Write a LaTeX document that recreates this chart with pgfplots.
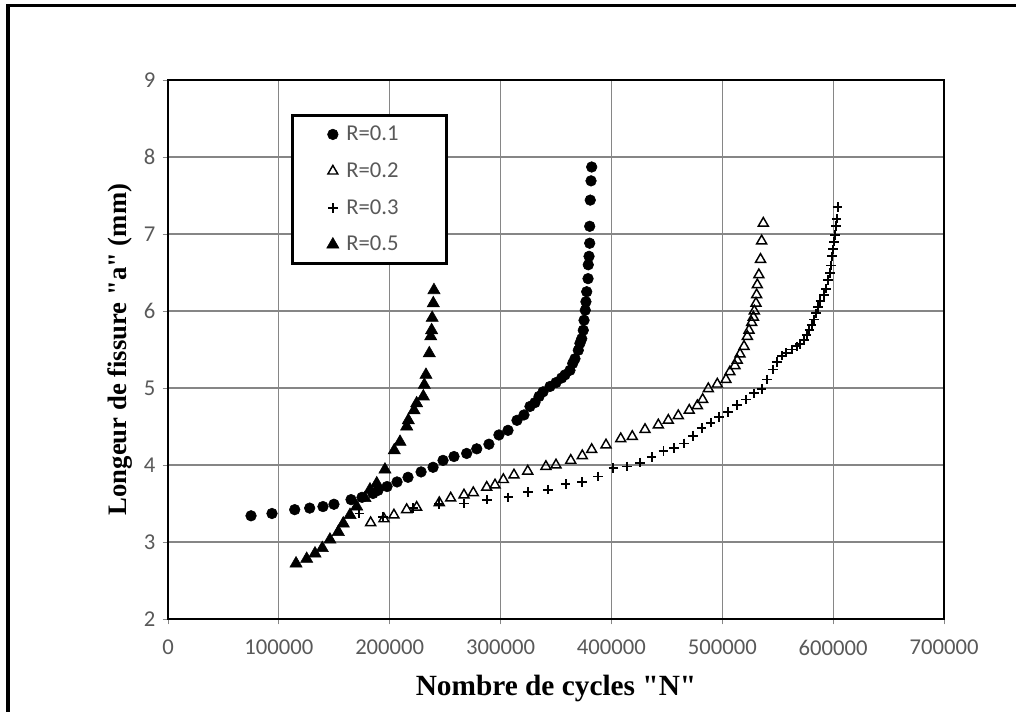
\documentclass[border=0pt]{standalone}
\usepackage{fontspec}
\setmainfont{Liberation Serif}
\newfontfamily\labelfont{Liberation Serif}
\newfontfamily\carlito{Carlito}
\usepackage{pgfplots}
\pgfplotsset{compat=1.18}
\definecolor{ticktext}{RGB}{89,89,89}
\definecolor{gridgray}{RGB}{134,134,134}

\begin{document}
\begin{tikzpicture}
% page = 1016 x 712 px at 0.75pt/px, axis box lower-left at (0,0)
\path[use as bounding box] (-126pt,-69.75pt) rectangle (636pt,464.25pt);
\draw[line width=2.6pt] (-120pt,-90pt) -- (-120pt,460.2pt) -- (660pt,460.2pt);
\begin{axis}[
    at={(0,0)}, anchor=south west,
    scale only axis, width=582pt, height=404.25pt,
    xmin=0, xmax=700000, ymin=2, ymax=9,
    scaled x ticks=false,
    xtick={0,100000,200000,300000,400000,500000,600000,700000},
    xticklabels={0,100000,200000,300000,400000,500000,600000,700000},
    ytick={2,3,4,5,6,7,8,9},
    yticklabels={2,3,4,5,6,7,8,9},
    xtick pos=bottom, ytick pos=left,
    tick align=outside, major tick length=4pt,
    tick style={gridgray, line width=0.6pt},
    grid=major,
    major grid style={gridgray, line width=0.8pt},
    axis line style={black, line width=2pt},
    tick label style={font=\carlito\fontsize{17}{20}\selectfont, text=ticktext},
    xticklabel style={yshift=-8pt},
    yticklabel style={xshift=-2pt},
    xlabel={Nombre de cycles "N"},
    ylabel={Longeur de fissure "a" (mm)},
    xlabel style={font=\labelfont\bfseries\fontsize{22}{26}\selectfont, at={(axis description cs:0.5,-0.128)}, anchor=center},
    ylabel style={font=\labelfont\bfseries\fontsize{20}{24}\selectfont, at={(axis description cs:-0.062,0.5)}, anchor=center},
    legend style={at={(axis description cs:0.158,0.937)}, anchor=north west,
        draw=black, line width=2.2pt, fill=white,
        font=\carlito\fontsize{17}{20}\selectfont, text=ticktext,
        inner xsep=26pt, inner ysep=6pt, row sep=11pt, column sep=0pt,
        nodes={text width=47pt, align=left},
        /tikz/every odd column/.append style={column sep=3.5pt}},
    legend cell align=left,
]

% R=0.1
\addplot[only marks, mark=*, mark size=4pt, black, line width=0.4pt] coordinates {
(74900,3.34) (93800,3.37) (114300,3.42) (127800,3.44) (139800,3.46) (149700,3.49)
(165100,3.55) (175000,3.58) (184900,3.63) (189400,3.67) (197600,3.72) (206600,3.78)
(216500,3.84) (228300,3.91) (239100,3.97) (248100,4.06) (258000,4.11) (269400,4.15)
(278500,4.21) (289500,4.27) (298500,4.39) (306700,4.45) (314800,4.58) (321100,4.65)
(326500,4.76) (331000,4.81) (334700,4.89) (338300,4.95) (344600,5.02) (350000,5.07)
(355100,5.13) (358100,5.17) (362600,5.23) (365100,5.32) (367100,5.38) (370100,5.49)
(371600,5.58) (373200,5.64) (374600,5.75) (375300,5.88) (376400,6.01) (377000,6.12)
(377700,6.25) (378900,6.42) (379100,6.60) (379800,6.71) (380400,6.88) (380400,7.10)
(380900,7.44) (381600,7.69) (382200,7.87)
};
\addlegendentry{R=0.1}

% R=0.2
\addplot[only marks, mark=triangle, mark size=4.3pt, black, line width=1.1pt] coordinates {
(182800,3.25) (194800,3.30) (203800,3.35) (215300,3.42) (224300,3.45) (244700,3.51)
(255000,3.57) (267000,3.61) (275400,3.64) (287500,3.71) (295000,3.74) (302500,3.81)
(312100,3.87) (324500,3.92) (340900,3.98) (350000,4.00) (363300,4.06) (373700,4.12)
(382200,4.20) (395100,4.26) (408400,4.34) (418800,4.37) (430300,4.46) (442300,4.52)
(451300,4.58) (460300,4.64) (470200,4.71) (477500,4.77) (482300,4.85) (487400,4.99)
(495500,5.05) (503300,5.11) (506900,5.21) (511400,5.29) (513500,5.36) (516000,5.44)
(519600,5.54) (522600,5.67) (524100,5.75) (526500,5.85) (528000,5.92) (528900,6.00)
(530400,6.10) (531000,6.21) (531600,6.34) (533000,6.47) (534500,6.67) (535500,6.91)
(537000,7.14)
};
\addlegendentry{R=0.2}

% R=0.3
\addplot[only marks, mark=+, mark size=3.6pt, black, line width=1.4pt] coordinates {
(172600,3.37) (194200,3.33) (221300,3.44) (244700,3.49) (267000,3.50) (287500,3.55)
(307000,3.58) (325000,3.65) (343000,3.68) (358700,3.75) (373700,3.78) (388100,3.85)
(401700,3.96) (413800,3.98) (425800,4.03) (436300,4.10) (447000,4.18) (456400,4.22)
(465400,4.28) (473800,4.38) (481400,4.48) (489500,4.55) (497300,4.62) (505400,4.69)
(513500,4.78) (521400,4.85) (528600,4.93) (535500,4.99) (540600,5.11) (546000,5.24)
(549100,5.34) (553600,5.42) (557500,5.46) (562600,5.50) (567100,5.54) (570100,5.57)
(573700,5.62) (576100,5.69) (578500,5.75) (580600,5.82) (582700,5.89) (584500,5.97)
(586600,6.05) (588500,6.13) (591700,6.21) (593500,6.29) (595600,6.40) (597100,6.49)
(598000,6.59) (599200,6.71) (600100,6.80) (601000,6.90) (601900,6.99) (602600,7.10)
(603100,7.20) (604000,7.35)
};
\addlegendentry{R=0.3}

% R=0.5
\addplot[only marks, mark=triangle*, mark size=5.3pt, black, line width=0.4pt] coordinates {
(115500,2.72) (125100,2.78) (132600,2.85) (139200,2.92) (146100,3.03) (153600,3.13)
(158100,3.24) (164200,3.35) (170200,3.46) (177700,3.57) (182200,3.68) (188300,3.76)
(195700,3.94) (204100,4.19) (209300,4.30) (215300,4.50) (216800,4.58) (221900,4.71)
(224300,4.80) (230300,4.89) (231200,5.04) (232700,5.17) (235700,5.45) (237000,5.67)
(237800,5.75) (238300,5.91) (239300,6.10) (239900,6.27)
};
\addlegendentry{R=0.5}

\end{axis}
\end{tikzpicture}
\end{document}
